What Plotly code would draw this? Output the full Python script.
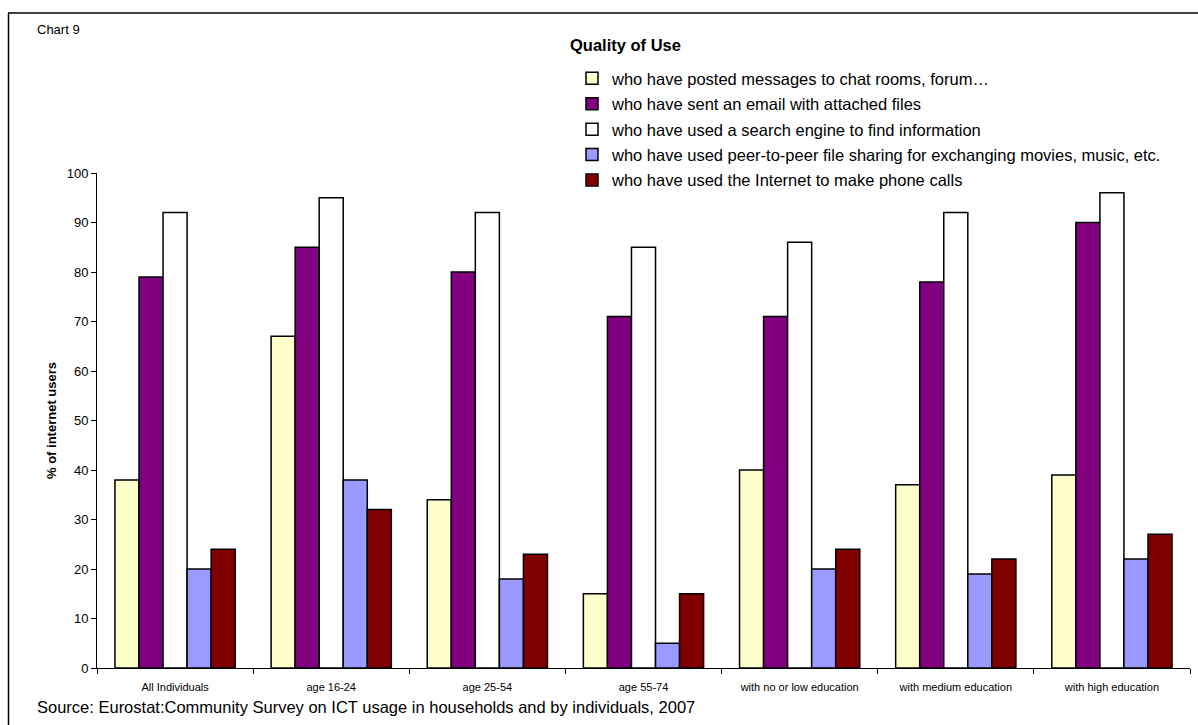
import plotly.graph_objects as go

categories = ["All Individuals", "age 16-24", "age 25-54", "age 55-74",
              "with no or low education", "with medium education", "with high education"]

series_names = [
    "who have posted messages to chat rooms, forum…",
    "who have sent an email with attached files",
    "who have used a search engine to find information",
    "who have used peer-to-peer file sharing for exchanging movies, music, etc.",
    "who have used the Internet to make phone calls",
]

posted_messages = [38, 67, 34, 15, 40, 37, 39]
sent_email = [79, 85, 80, 71, 71, 78, 90]
search_engine = [92, 95, 92, 85, 86, 92, 96]
peer_to_peer = [20, 38, 18, 5, 20, 19, 22]
phone_calls = [24, 32, 23, 15, 24, 22, 27]

series_values = [posted_messages, sent_email, search_engine, peer_to_peer, phone_calls]
colors = ["#FFFFCC", "#800080", "#FFFFFF", "#9999FF", "#800000"]

FONT = "Liberation Sans, Arial, sans-serif"

# plot area in pixels
L, R, T, B = 97, 1190, 173, 668
W, H = R - L, B - T


def px(x):
    return (x - L) / W


def py(y):
    return (B - y) / H


fig = go.Figure()
for i, (name, vals, col) in enumerate(zip(series_names, series_values, colors)):
    fig.add_trace(go.Bar(
        x=categories, y=vals, name=name,
        marker=dict(color=col, line=dict(color="black", width=1.5)),
        legendgroup=f"g{i}",
    ))

fig.update_layout(
    width=1198, height=725,
    margin=dict(l=L, r=1198 - R, t=T, b=725 - B),
    paper_bgcolor="white", plot_bgcolor="white",
    barmode="group", bargap=0.23, bargroupgap=0,
    font=dict(family=FONT, color="black", size=11),
    showlegend=True,
    legend=dict(
        x=px(572), xanchor="left", y=py(61), yanchor="top",
        font=dict(size=16.5, family=FONT), traceorder="grouped",
        tracegroupgap=1, itemwidth=30, bgcolor="rgba(0,0,0,0)",
    ),
    xaxis=dict(
        showline=True, linecolor="black", linewidth=1,
        ticks="outside", tickson="boundaries", ticklen=5, tickcolor="black",
        tickfont=dict(size=11), showgrid=False, ticklabelstandoff=9,
    ),
    yaxis=dict(
        range=[0, 100], dtick=10, showline=True, linecolor="black", linewidth=1,
        ticks="outside", ticklen=5, tickcolor="black", showgrid=False,
        tickfont=dict(size=13), zeroline=False,
        title=dict(text="<b>% of internet users</b>", font=dict(size=13), standoff=7),
    ),
    annotations=[
        dict(text="<b>Quality of Use</b>", x=px(625), y=py(45), xref="paper", yref="paper",
             xanchor="center", yanchor="middle", showarrow=False, font=dict(size=16.5)),
        dict(text="Chart 9", x=px(35), y=py(30), xref="paper", yref="paper",
             xanchor="left", yanchor="middle", showarrow=False, font=dict(size=13)),
        dict(text="Source: Eurostat:Community Survey on ICT usage in households and by individuals, 2007",
             x=px(35), y=py(707), xref="paper", yref="paper",
             xanchor="left", yanchor="middle", showarrow=False, font=dict(size=16.5)),
    ],
    shapes=[
        dict(type="line", xref="paper", yref="paper", x0=px(8), x1=px(1198),
             y0=py(13), y1=py(13), line=dict(color="#404040", width=2)),
        dict(type="line", xref="paper", yref="paper", x0=px(8.5), x1=px(8.5),
             y0=py(13), y1=py(725), line=dict(color="black", width=1.5)),
    ],
)

fig.write_html("out.html")
